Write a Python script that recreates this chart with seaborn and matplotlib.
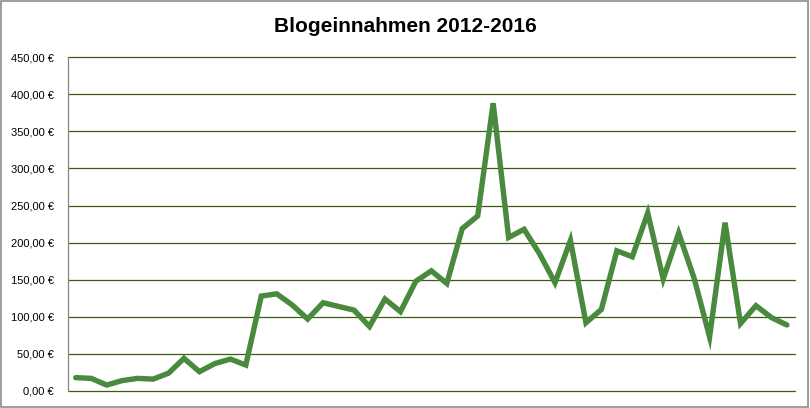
import matplotlib
matplotlib.use("Agg")
import matplotlib.pyplot as plt
import seaborn as sns
import pandas as pd
import numpy as np
from matplotlib.patches import Rectangle
from matplotlib.ticker import FuncFormatter

sns.set_theme(style="white")
plt.rcParams['font.family'] = ['Liberation Sans', 'DejaVu Sans']

# Monthly blog income in EUR (47 months)
month_index = list(range(47))
income = [18, 17, 8, 14, 17, 16, 24, 44, 26, 37, 43, 35,
          128, 131, 116, 97, 119, 114, 109, 87, 124, 107, 148, 162,
          145, 219, 236, 388, 207, 218, 185, 146, 203, 92, 110, 189,
          181, 240, 151, 213, 152, 73, 227, 91, 115, 99, 89]
y_ticks = list(range(0, 451, 50))

df = pd.DataFrame({'Monat': month_index, 'Einnahmen': income})

LINE_COLOR = '#4a8a3e'
GRID_COLOR = '#3d5a0e'

fig = plt.figure(figsize=(8.1, 4.08), dpi=100)
ax = fig.add_axes([0.084, 0.0417, 0.897, 0.818])

sns.lineplot(data=df, x='Monat', y='Einnahmen', ax=ax,
             color=LINE_COLOR, linewidth=3.9, solid_joinstyle='miter', zorder=3)

ax.set_xlim(-0.5, len(month_index) - 0.5)
ax.set_ylim(0, 450)
ax.set_yticks(y_ticks)
ax.yaxis.set_major_formatter(FuncFormatter(lambda v, _: f'{v:,.2f} €'.replace('.', ',')))
ax.set_xticks([])
ax.set_xlabel('')
ax.set_ylabel('')
ax.tick_params(axis='y', labelsize=8, colors='black', length=0, pad=10)

for v in y_ticks:
    ax.axhline(v, color=GRID_COLOR, linewidth=0.9, zorder=1, clip_on=False)

for side in ['top', 'right', 'bottom']:
    ax.spines[side].set_visible(False)
ax.spines['left'].set_color('#868686')
ax.spines['left'].set_linewidth(0.9)

fig.text(0.5, 0.935, 'Blogeinnahmen 2012-2016', ha='center', va='center',
         fontsize=15, fontweight='bold', color='black')

# chart border
fig.patches.append(Rectangle((0.001, 0.002), 0.997, 0.995, transform=fig.transFigure,
                             fill=False, edgecolor='#8c8c8c', linewidth=1.2))

fig.savefig('out.png', dpi=100)
